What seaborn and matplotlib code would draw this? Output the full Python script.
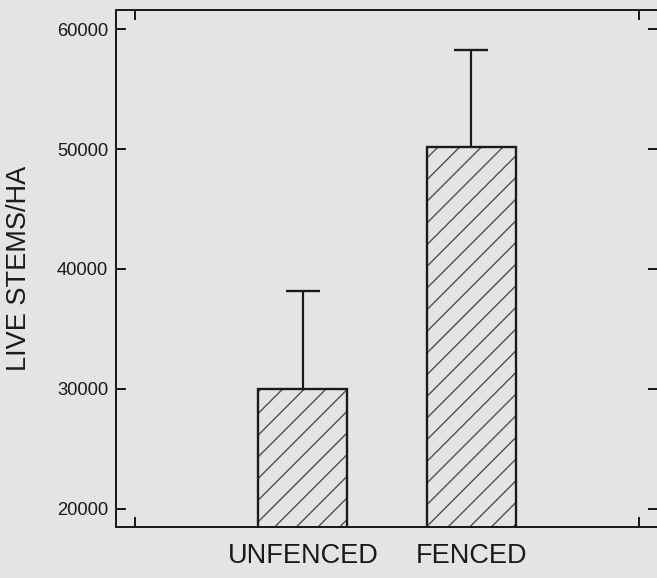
import matplotlib
matplotlib.use("Agg")
import matplotlib.pyplot as plt
import seaborn as sns
import pandas as pd

categories = ["UNFENCED", "FENCED"]
means = [30000, 50150]
upper_err = [8150, 8150]
y_ticks = [20000, 30000, 40000, 50000, 60000]

sns.set_theme(style="ticks")
plt.rcParams['font.family'] = ['Liberation Sans', 'DejaVu Sans']
plt.rcParams['hatch.linewidth'] = 0.8
plt.rcParams['hatch.color'] = '#555555'

DPI = 130
BG = '#e4e4e4'
INK = '#1a1a1a'
fig = plt.figure(figsize=(657 / DPI, 578 / DPI), dpi=DPI, facecolor=BG)
ax = fig.add_axes([116 / 657, 1 - 527.3 / 578, 1.0015 - 116 / 657, (527.3 - 10) / 578])
ax.set_facecolor(BG)

df = pd.DataFrame({"cat": categories, "val": means})
sns.barplot(data=df, x="cat", y="val", order=categories, color=BG, width=0.53,
            edgecolor=INK, linewidth=1.3, errorbar=None, saturation=1, ax=ax)
for p in ax.patches:
    p.set_edgecolor(INK)
    p.set_hatch('//')
    if hasattr(p, 'set_hatchcolor'):
        p.set_hatchcolor('#555555')
    else:
        p._hatch_color = matplotlib.colors.to_rgba('#555555')

xs = list(range(len(categories)))
eb = ax.errorbar(xs, means, yerr=[[0] * len(means), upper_err], fmt='none',
                 ecolor=INK, elinewidth=1.2, capsize=9.5, capthick=1.3, zorder=1)
caplines = eb.lines[1]
if len(caplines) > 1:
    caplines[0].set_visible(False)

ax.set_xlim(-1.11, 2.11)
ax.set_ylim(18450, 61600)
ax.set_yticks(y_ticks)
ax.set_yticklabels([str(v) for v in y_ticks], fontsize=10.2, color=INK)
ax.set_xticks(xs)
ax.set_xticklabels(categories, fontsize=15, color=INK)
ax.set_xticks([-1, 2], minor=True)
ax.tick_params(axis='x', which='major', length=0, pad=8.5)
ax.tick_params(axis='x', which='minor', direction='in', length=5.5, width=1.1,
               top=True, bottom=True, color=INK, labelbottom=False)
ax.tick_params(axis='y', which='major', direction='in', length=5.5, width=1.1,
               left=True, right=True, color=INK, pad=4.4)
ax.set_xlabel("")
ax.set_ylabel("LIVE STEMS/HA", fontsize=15, color=INK, labelpad=14)
for s in ax.spines.values():
    s.set_visible(True)
    s.set_linewidth(1.1)
    s.set_color(INK)

fig.savefig("out.png", dpi=DPI, facecolor=BG)
